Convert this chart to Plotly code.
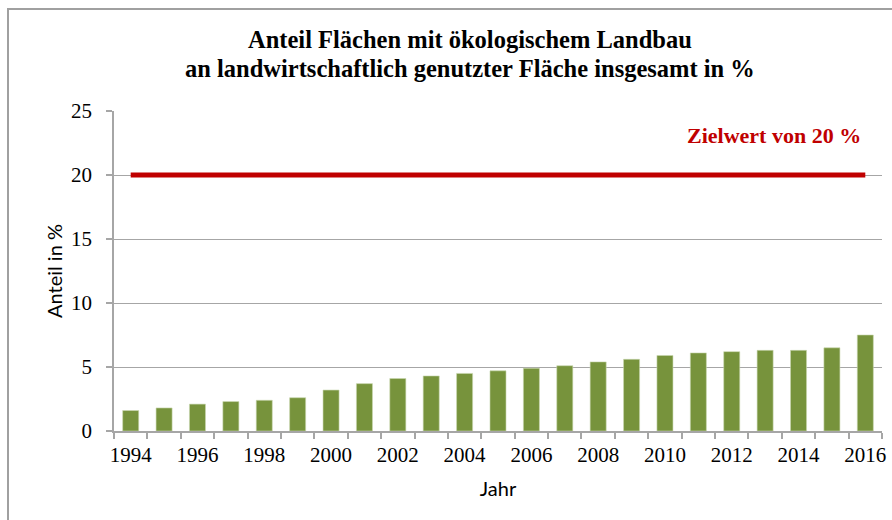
import plotly.graph_objects as go

years = list(range(1994, 2017))
anteil = [1.6, 1.8, 2.1, 2.3, 2.4, 2.6, 3.2, 3.7, 4.1, 4.3, 4.5, 4.7,
          4.9, 5.1, 5.4, 5.6, 5.9, 6.1, 6.2, 6.3, 6.3, 6.5, 7.5]
zielwert = 20
tick_years = list(range(1994, 2017, 2))
y_ticks = [0, 5, 10, 15, 20, 25]
title_lines = ["Anteil Flächen mit ökologischem Landbau",
               "an landwirtschaftlich genutzter Fläche insgesamt in %"]

W, H = 892, 520
L, R, T, B = 114, 10, 111, 89
pw, ph = W - L - R, H - T - B

def px_x(p):
    return (p - L) / pw

def px_y(p):
    return (H - B - p) / ph

fig = go.Figure()
fig.add_trace(go.Bar(
    x=years, y=anteil, width=0.48,
    marker=dict(color="#77933C", line=dict(color="#C9D6B0", width=0.6)),
    hoverinfo="x+y", showlegend=False,
))
fig.add_trace(go.Scatter(
    x=years, y=[zielwert] * len(years), mode="lines",
    line=dict(color="#C00000", width=5), showlegend=False,
))

serif = "Liberation Serif, Times New Roman, serif"
sans = "Lato, Calibri, sans-serif"

annotations = [dict(
    text="<b>Zielwert von 20 %</b>", xref="paper", yref="y",
    x=px_x(863), y=23.1, xanchor="right", yanchor="middle",
    showarrow=False, font=dict(family=serif, size=22, color="#C00000"),
)]
for line, ypx in zip(title_lines, [40, 68]):
    annotations.append(dict(
        text="<b>" + line + "</b>", xref="paper", yref="paper",
        x=px_x(470), y=px_y(ypx), xanchor="center", yanchor="middle",
        showarrow=False, font=dict(family=serif, size=24.5, color="black"),
    ))

fig.update_layout(
    width=W, height=H,
    margin=dict(l=L, r=R, t=T, b=B, autoexpand=False),
    paper_bgcolor="white", plot_bgcolor="white",
    xaxis=dict(
        range=[1993.5, 2016.5],
        tickvals=tick_years, ticktext=[str(y) for y in tick_years],
        ticks="", showgrid=False,
        showline=True, linecolor="#A6A6A6", linewidth=1.5,
        tickfont=dict(family=serif, size=21, color="black"),
        ticklabelstandoff=4,
        minor=dict(tick0=1993.5, dtick=1, ticks="outside", ticklen=6,
                   tickcolor="#A6A6A6", tickwidth=1.5, showgrid=False),
        title=dict(text="Jahr", font=dict(family=sans, size=20, color="black"), standoff=16),
        zeroline=False,
    ),
    yaxis=dict(
        range=[0, 25], tickvals=y_ticks,
        ticks="outside", ticklen=6, tickcolor="#A6A6A6", tickwidth=1.5,
        ticklabelstandoff=10,
        showgrid=True, gridcolor="#A6A6A6", gridwidth=1,
        showline=True, linecolor="#A6A6A6", linewidth=1.5,
        tickfont=dict(family=serif, size=21, color="black"),
        title=dict(text="Anteil in %", font=dict(family=sans, size=20, color="black"), standoff=3),
        zeroline=False,
    ),
    bargap=0.52,
    shapes=[dict(
        type="rect", xref="paper", yref="paper",
        x0=px_x(8), x1=px_x(905), y0=px_y(535), y1=px_y(9),
        line=dict(color="#A0A0A0", width=2), fillcolor="rgba(0,0,0,0)", layer="below",
    )],
    annotations=annotations,
)

fig.write_html("out.html", config={"displayModeBar": False},
               post_script="document.body.style.margin='0';")
